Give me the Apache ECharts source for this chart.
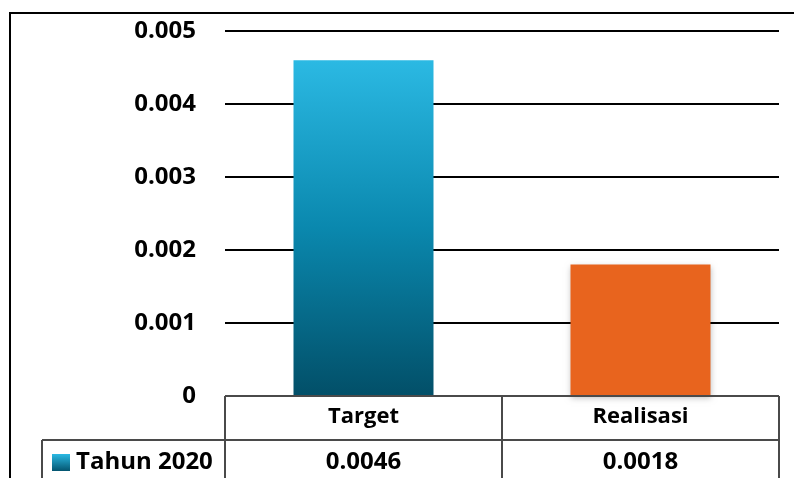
<!DOCTYPE html>
<html>
<head>
<meta charset="utf-8">
<script src="https://cdn.jsdelivr.net/npm/echarts@6/dist/echarts.min.js"></script>
<style>
  html, body { margin: 0; padding: 0; background: #fff; }
  #chart { width: 794px; height: 478px; }
</style>
</head>
<body>
<div id="chart"></div>
<script>
// Chart data
const categories = ['Target', 'Realisasi'];
const seriesName = 'Tahun 2020';
const values = [0.0046, 0.0018];
const valueLabels = ['0.0046', '0.0018'];
const yTicks = [0, 0.001, 0.002, 0.003, 0.004, 0.005];

const FONT = '"Open Sans", "Liberation Sans", sans-serif';
const blueGradient = new echarts.graphic.LinearGradient(0, 0, 0, 1, [
  { offset: 0, color: '#2bb9e3' },
  { offset: 0.5, color: '#0a88ae' },
  { offset: 1, color: '#024f68' }
]);
const barColors = [blueGradient, '#e8641e'];

const chart = echarts.init(document.getElementById('chart'), null, { renderer: 'canvas' });

const option = {
  animation: false,
  backgroundColor: '#fff',
  grid: { left: 225, right: 15, top: 31, bottom: 82, containLabel: false },
  xAxis: {
    type: 'category',
    data: categories,
    axisLine: { show: false },
    axisTick: { show: false },
    axisLabel: { show: false }
  },
  yAxis: {
    type: 'value',
    min: 0,
    max: yTicks[yTicks.length - 1],
    interval: 0.001,
    axisLine: { show: false },
    axisTick: { show: false },
    axisLabel: {
      margin: 29,
      color: '#000',
      fontFamily: FONT,
      fontWeight: 'bold',
      fontSize: 24,
      formatter: v => (v === 0 ? '0' : v.toFixed(3))
    },
    splitLine: { lineStyle: { color: '#000', width: 2 } }
  },
  series: [{
    name: seriesName,
    type: 'bar',
    barWidth: 140,
    data: values.map((v, i) => ({
      value: v,
      itemStyle: {
        color: barColors[i],
        shadowBlur: 6,
        shadowColor: 'rgba(0,0,0,0.25)',
        shadowOffsetX: 0,
        shadowOffsetY: 2
      }
    }))
  }]
};
chart.setOption(option);

// Data table under the plot, positioned from the axis scales
function buildTable() {
  const y0 = chart.convertToPixel({ yAxisIndex: 0 }, 0);
  const xs = categories.map(c => chart.convertToPixel({ xAxisIndex: 0 }, c));
  const half = (xs[1] - xs[0]) / 2;
  const left = xs[0] - half;
  const right = xs[xs.length - 1] + half;
  const rowH = 44;
  const rowBottom = 500;
  const legendLeft = 42;
  const lineStyle = { stroke: '#4a4a4a', lineWidth: 2 };
  const els = [];

  // outer frame
  els.push({ type: 'rect', shape: { x: 10, y: 13, width: 800, height: 500 },
    style: { fill: null, stroke: '#000', lineWidth: 2 }, z: 10 });

  // table lines
  els.push({ type: 'line', shape: { x1: left, y1: y0, x2: right, y2: y0 }, style: lineStyle, z: 10 });
  els.push({ type: 'line', shape: { x1: legendLeft, y1: y0 + rowH, x2: right, y2: y0 + rowH }, style: lineStyle, z: 10 });
  els.push({ type: 'line', shape: { x1: legendLeft, y1: y0 + rowH, x2: legendLeft, y2: rowBottom }, style: lineStyle, z: 10 });
  for (let i = 0; i <= categories.length; i++) {
    const x = left + i * 2 * half;
    els.push({ type: 'line', shape: { x1: x, y1: y0, x2: x, y2: rowBottom }, style: lineStyle, z: 10 });
  }

  // header and value texts
  categories.forEach((c, i) => {
    els.push({ type: 'text', x: xs[i], y: y0 + rowH / 2 - 1, z: 11,
      style: { text: c, fill: '#000', font: 'bold 22px ' + FONT, align: 'center', verticalAlign: 'middle' } });
    els.push({ type: 'text', x: xs[i], y: y0 + rowH + 22, z: 11,
      style: { text: valueLabels[i], fill: '#000', font: 'bold 24px ' + FONT, align: 'center', verticalAlign: 'middle' } });
  });

  // legend key and series name
  els.push({ type: 'rect', shape: { x: 52, y: y0 + rowH + 14, width: 18, height: 17 }, z: 11,
    style: { fill: new echarts.graphic.LinearGradient(0, 0, 0, 1, [
      { offset: 0, color: '#2bb9e3' }, { offset: 1, color: '#045570' }]) } });
  els.push({ type: 'text', x: 76, y: y0 + rowH + 22, z: 11,
    style: { text: seriesName, fill: '#000', font: 'bold 24px ' + FONT, align: 'left', verticalAlign: 'middle' } });

  chart.setOption({ graphic: els });
}
buildTable();
</script>
</body>
</html>
